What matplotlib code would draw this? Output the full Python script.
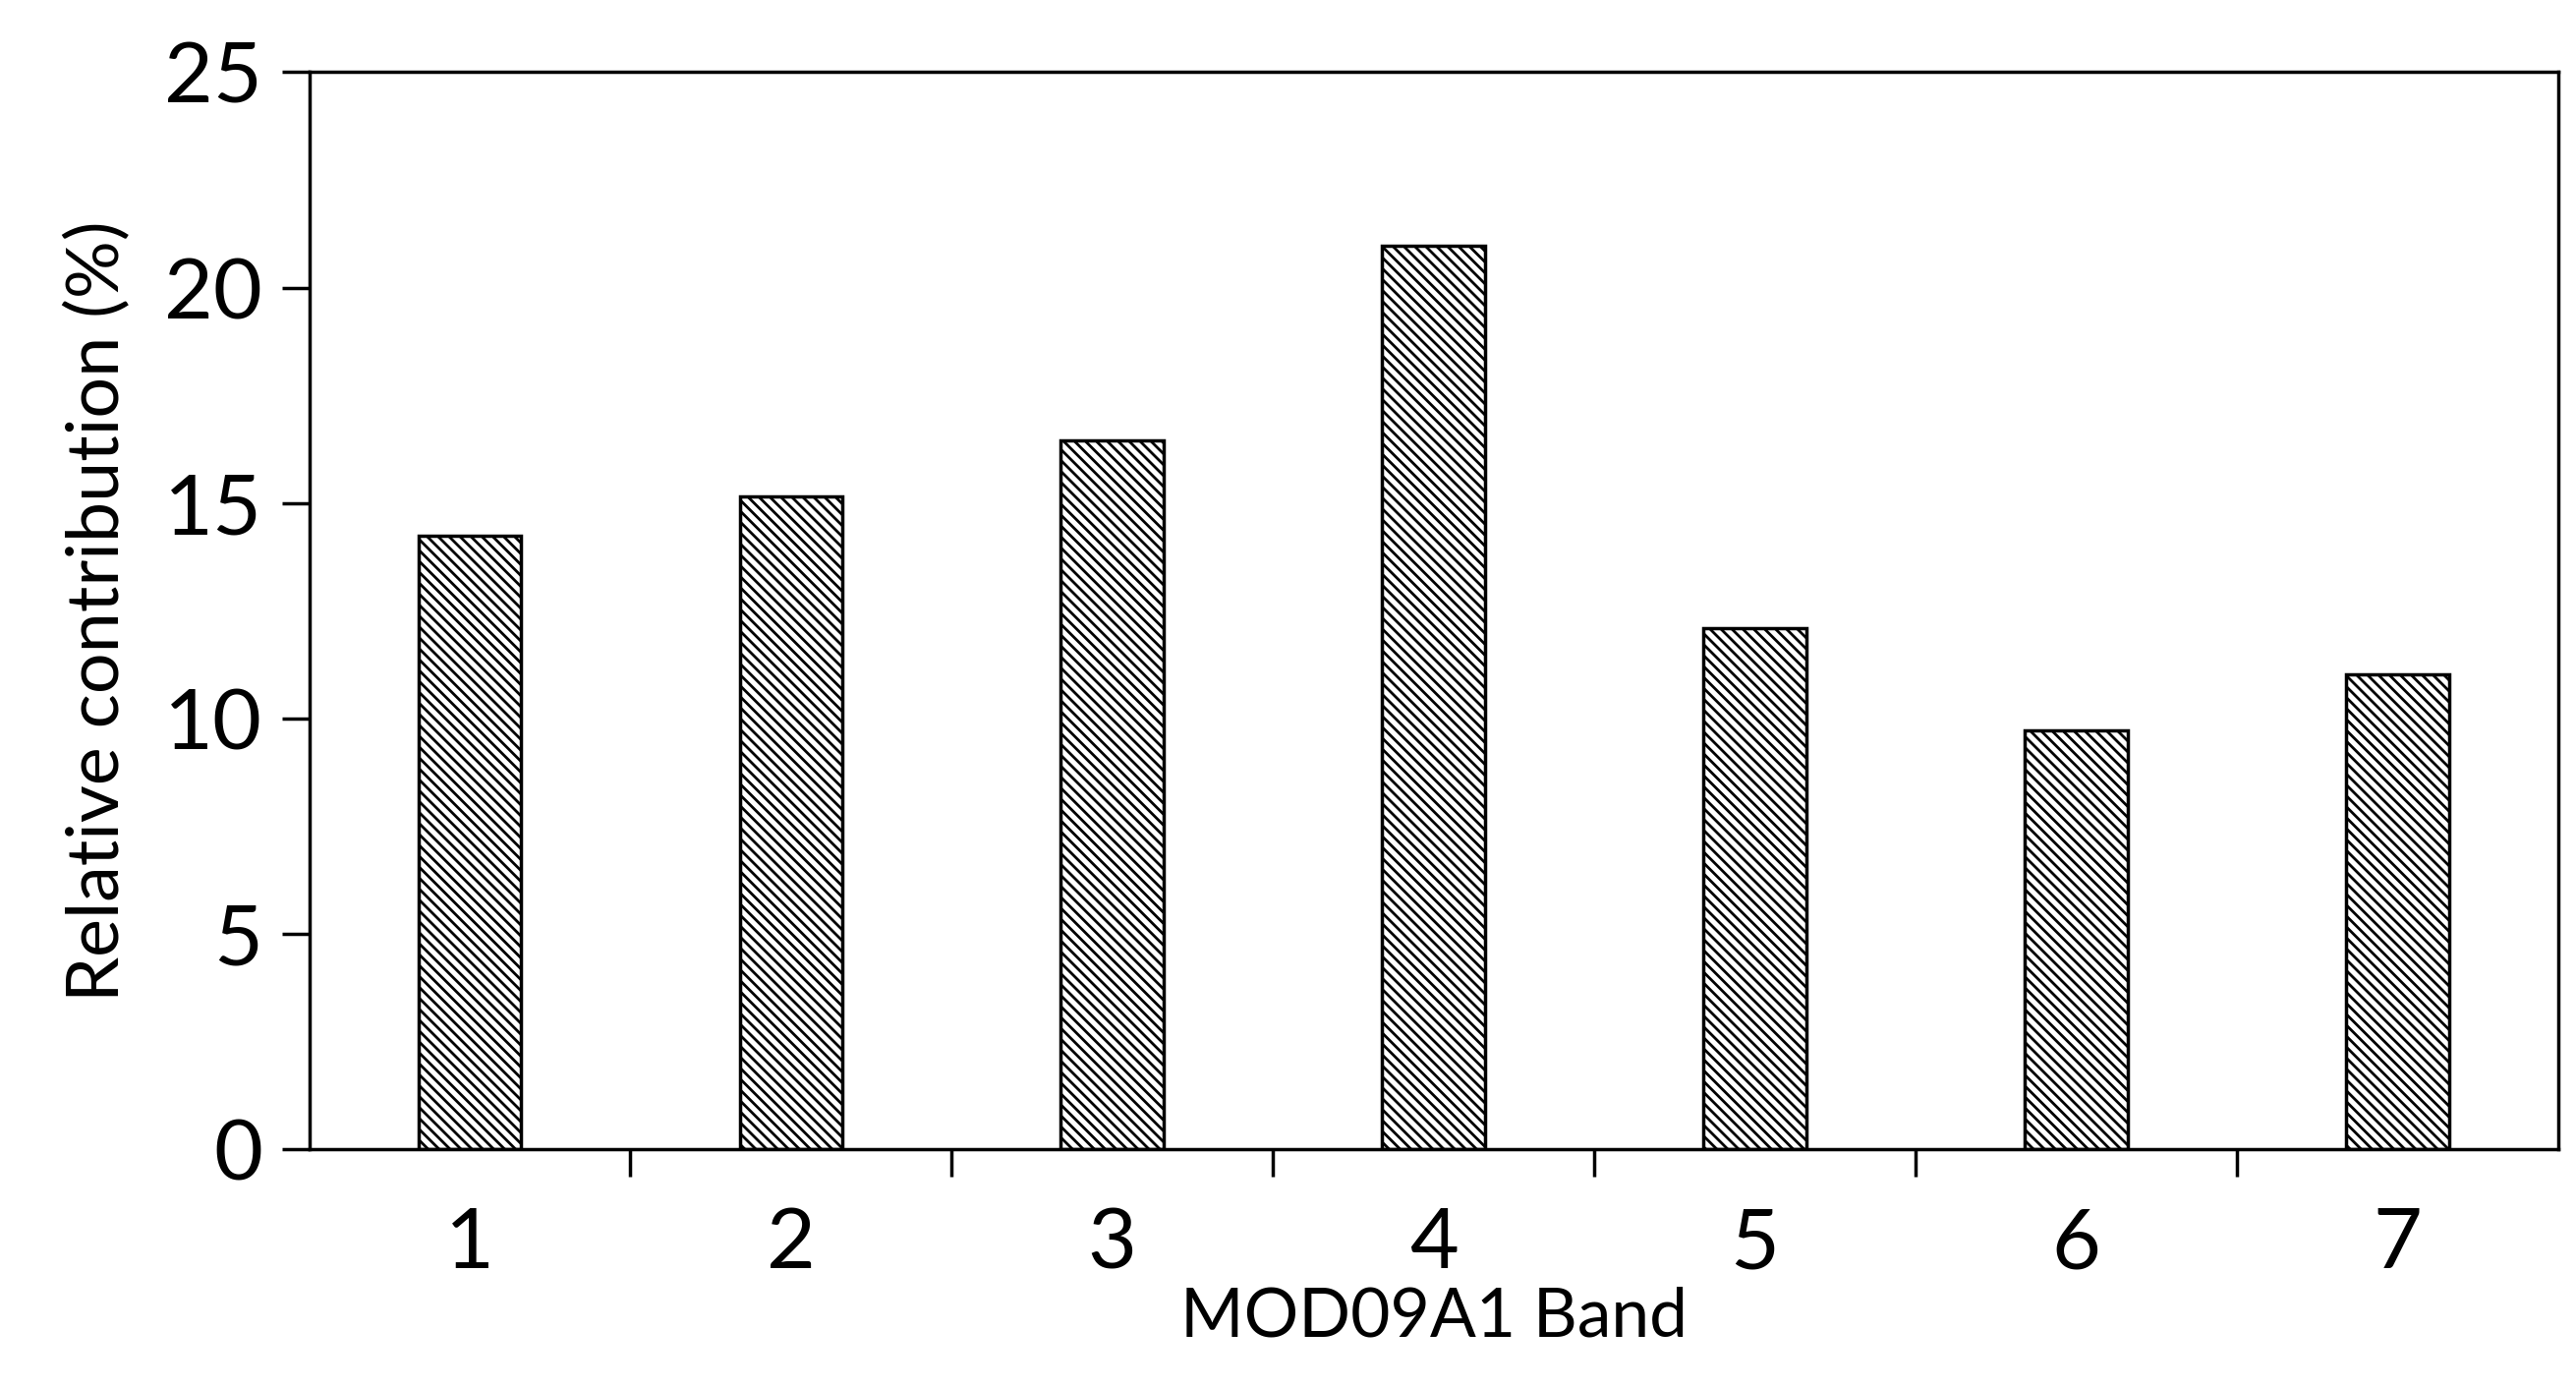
import matplotlib
matplotlib.use("Agg")
import matplotlib.pyplot as plt
import numpy as np

bands = ["1", "2", "3", "4", "5", "6", "7"]
contribution = [14.24, 15.16, 16.46, 20.98, 12.1, 9.72, 11.03]

plt.rcParams['font.family'] = ['Lato', 'DejaVu Sans']
plt.rcParams['hatch.linewidth'] = 2.0
fig = plt.figure(figsize=(26.21, 14.12), dpi=100)
ax = fig.add_axes([0.120, 0.172, 0.873, 0.776])
x = np.arange(len(bands))
ax.bar(x, contribution, width=0.32, facecolor='white', edgecolor='black',
       linewidth=2.5, hatch='\\\\\\')
ax.set_xlim(-0.5, len(bands) - 0.5)
ax.set_ylim(0, 25)
ax.set_yticks([0, 5, 10, 15, 20, 25])
ax.set_xticks(x)
ax.set_xticklabels(bands)
ax.set_xticks(np.arange(0.5, len(bands) - 1, 1), minor=True)
ax.tick_params(axis='x', which='major', length=0, pad=42, labelsize=62)
ax.tick_params(axis='x', which='minor', length=20, width=2.5, direction='out')
ax.tick_params(axis='y', length=20, width=2.5, direction='out', labelsize=62, pad=14)
for s in ax.spines.values():
    s.set_linewidth(2.5)
ax.set_ylabel('Relative contribution (%)', fontsize=53, labelpad=24)
ax.set_xlabel('MOD09A1 Band', fontsize=50, labelpad=2)
fig.savefig('out.png', dpi=100)
